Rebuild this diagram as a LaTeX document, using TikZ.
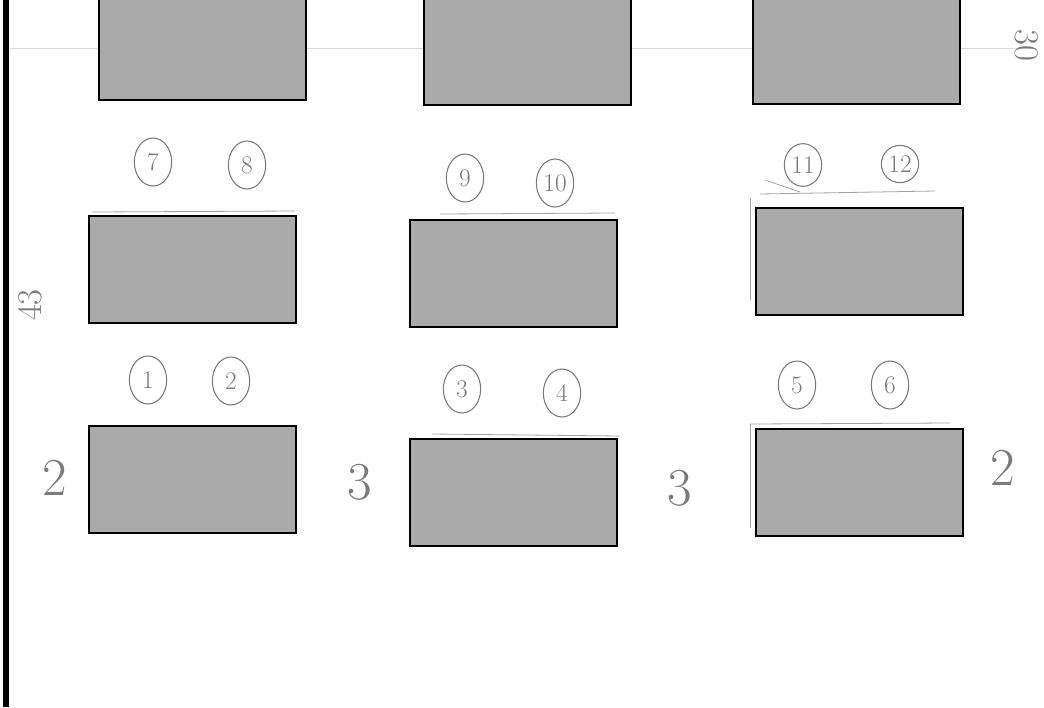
\documentclass[tikz,border=0pt]{standalone}
\usepackage{xcolor}
\usepackage{tikz}
\usetikzlibrary{shapes.geometric}

\definecolor{tablegrey}{HTML}{AAAAAA}
\definecolor{pencil}{HTML}{7A7A7A}

\begin{document}
\begin{tikzpicture}[
  x=0.75pt, y=-0.75pt,
  table/.style={draw=black, line width=1.6pt, fill=tablegrey, minimum width=155pt, minimum height=80pt, inner sep=0pt, anchor=north west},
  seat/.style={ellipse, draw=pencil, line width=0.8pt, minimum width=28pt, minimum height=36pt, inner sep=0pt, text=pencil, font=\fontsize{19}{19}\selectfont},
  gap/.style={text=pencil, font=\fontsize{40}{40}\selectfont},
  dim/.style={text=pencil, inner sep=0pt, font=\fontsize{26}{26}\selectfont},
  sketch/.style={draw=pencil!70, line width=0.6pt}
]
\useasboundingbox (0,0) rectangle (1044,707);

% wall and faint guide line
\draw[line width=4pt] (6,0) -- (6,707);
\draw[black!15, line width=0.5pt] (10,48) -- (1015,48);

% tables
\node[table] (t1) at (98,-8) {};
\node[table] (t2) at (423,-3) {};
\node[table] (t3) at (752,-4) {};
\node[table] (t4) at (88,215) {};
\node[table] (t5) at (409,219) {};
\node[table] (t6) at (755,207) {};
\node[table] (t7) at (88,425) {};
\node[table] (t8) at (409,438) {};
\node[table] (t9) at (755,428) {};

% pencil marks above the tables
\draw[sketch] (92,212) -- (295,211);
\draw[sketch] (440,214) -- (615,213);
\draw[sketch] (760,194) -- (935,191);
\draw[sketch] (765,180) -- (800,192);
\draw[sketch] (750,198) -- (750,300);
\draw[sketch] (432,434) -- (620,436);
\draw[sketch] (750,424) -- (950,423);
\draw[sketch] (750,424) -- (750,528);

% seats
\node[seat] (s7) at (153,162) {7};
\node[seat] (s8) at (247,165) {8};
\node[seat] (s9) at (465,178) {9};
\node[seat] (s10) at (555,183) {10};
\node[seat, minimum height=32pt] (s11) at (803,165) {11};
\node[seat, minimum height=28pt] (s12) at (900,164) {12};
\node[seat] (s1) at (148,380) {1};
\node[seat] (s2) at (231,381) {2};
\node[seat] (s3) at (462,389) {3};
\node[seat] (s4) at (562,393) {4};
\node[seat] (s5) at (797,385) {5};
\node[seat] (s6) at (890,385) {6};

% spacing between tables
\node[gap] (g1) at (55,478) {2};
\node[gap] (g2) at (360,482) {3};
\node[gap] (g3) at (680,488) {3};
\node[gap] (g4) at (1003,468) {2};

% room sizes
\node[dim, rotate=90] (d1) at (30,305) {43};
\node[dim, rotate=-90] (d2) at (1027,45) {30};

\end{tikzpicture}
\end{document}
